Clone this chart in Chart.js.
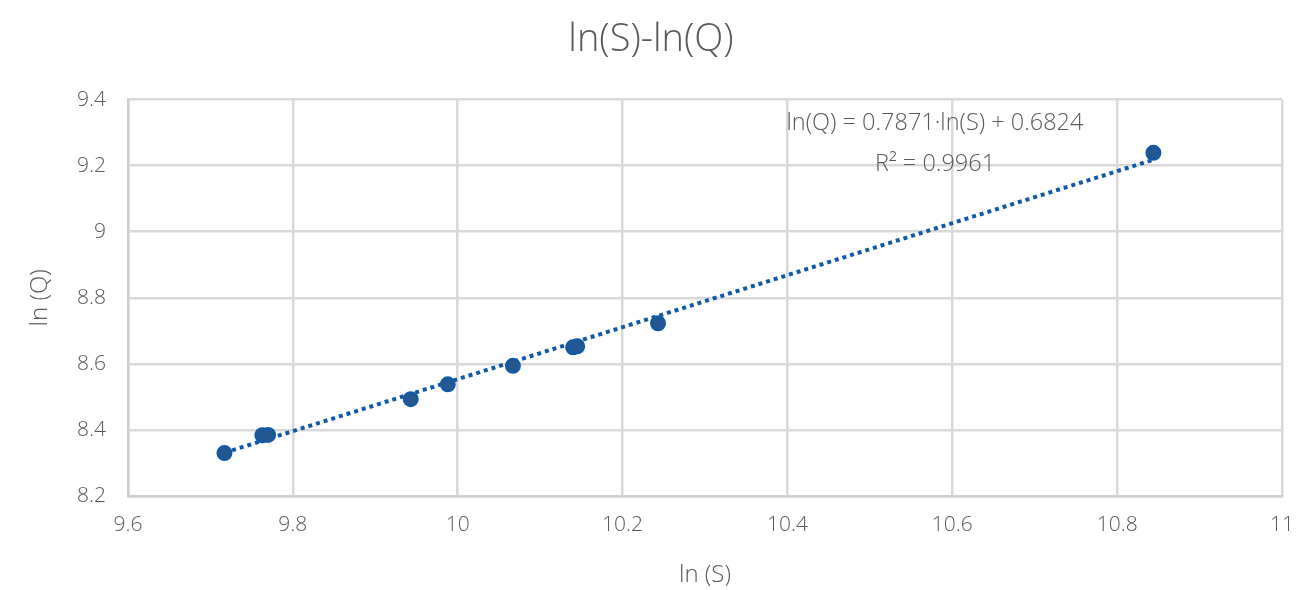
<!DOCTYPE html>
<html>
<head>
<meta charset="utf-8">
<script src="https://cdn.jsdelivr.net/npm/chart.js@4/dist/chart.umd.min.js"></script>
<style>
  html, body { margin: 0; padding: 0; background: #fff; }
  #wrap { width: 1302px; height: 590px; }
</style>
</head>
<body>
<div id="wrap"><canvas id="chart"></canvas></div>
<script>
// measured points, ln(S) vs ln(Q)
const lnS = [9.717, 9.763, 9.770, 9.943, 9.988, 10.067, 10.140, 10.145, 10.243, 10.844];
const lnQ = [8.330, 8.384, 8.385, 8.493, 8.538, 8.594, 8.650, 8.653, 8.723, 9.239];

// linear trendline ends
const trendS = [9.717, 10.844];
const trendQ = [8.331, 9.218];

const equationText = 'ln(Q) = 0.7871·ln(S) + 0.6824';
const r2Text = 'R² = 0.9961';

const FONT = "'Open Sans', 'Noto Sans', sans-serif";
const GREY = '#595959';

// draws the equation box text on top of the plot
const equationLabel = {
    id: 'equationLabel',
    afterDatasetsDraw(chart) {
        const { ctx, scales } = chart;
        const x = scales.x.getPixelForValue(10.579);
        ctx.save();
        ctx.fillStyle = GREY;
        ctx.font = "300 23.5px " + FONT;
        ctx.textAlign = 'center';
        ctx.textBaseline = 'middle';
        ctx.fillText(equationText, x, scales.y.getPixelForValue(9.327));
        ctx.fillText(r2Text, x, scales.y.getPixelForValue(9.203));
        ctx.restore();
    }
};

const ctx = document.getElementById('chart').getContext('2d');
new Chart(ctx, {
    type: 'scatter',
    data: {
        datasets: [
            {
                label: 'ln(Q)',
                data: lnS.map((s, i) => ({ x: s, y: lnQ[i] })),
                pointRadius: 7,
                pointBackgroundColor: '#24568f',
                pointBorderColor: '#0f5aa6',
                pointBorderWidth: 2,
                order: 1
            },
            {
                label: 'Trend',
                type: 'line',
                data: trendS.map((s, i) => ({ x: s, y: trendQ[i] })),
                borderColor: '#0f5aa8',
                borderWidth: 4,
                borderDash: [4, 4],
                pointRadius: 0,
                fill: false,
                order: 2
            }
        ]
    },
    options: {
        responsive: true,
        maintainAspectRatio: false,
        animation: false,
        layout: { padding: { left: 0, right: 0, top: 0, bottom: 0 } },
        plugins: {
            legend: { display: false },
            tooltip: { enabled: false },
            title: {
                display: true,
                text: 'ln(S)-ln(Q)',
                color: GREY,
                font: { family: FONT, size: 38, weight: 300 },
                padding: { top: 17, bottom: 37 }
            }
        },
        scales: {
            x: {
                type: 'linear',
                min: 9.6,
                max: 11,
                ticks: {
                    stepSize: 0.2,
                    color: GREY,
                    font: { family: FONT, size: 21, weight: 300 },
                    padding: 16,
                    callback: v => +v.toFixed(1)
                },
                grid: { color: '#d9d9d9', lineWidth: 2.5, drawTicks: false },
                border: { color: '#d0d0d0', width: 2.5 },
                title: {
                    display: true,
                    text: 'ln (S)',
                    color: GREY,
                    font: { family: FONT, size: 24, weight: 300 },
                    padding: { top: 10, bottom: 0 }
                },
                afterFit: s => { s.height = 94; s.paddingLeft = 0; s.paddingRight = 20; }
            },
            y: {
                type: 'linear',
                min: 8.2,
                max: 9.4,
                ticks: {
                    stepSize: 0.2,
                    color: GREY,
                    font: { family: FONT, size: 21, weight: 300 },
                    padding: 22,
                    callback: v => +v.toFixed(1)
                },
                grid: { color: '#d9d9d9', lineWidth: 2.5, drawTicks: false },
                border: { color: '#d0d0d0', width: 2.5 },
                title: {
                    display: true,
                    text: 'ln (Q)',
                    color: GREY,
                    font: { family: FONT, size: 24, weight: 300 },
                    padding: { top: 26, bottom: 0 }
                },
                afterFit: s => { s.width = 128; }
            }
        }
    },
    plugins: [equationLabel]
});
</script>
</body>
</html>
